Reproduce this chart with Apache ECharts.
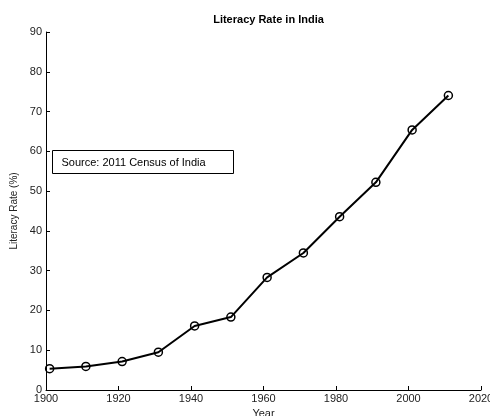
<!DOCTYPE html>
<html>
<head>
<meta charset="utf-8">
<script src="https://cdn.jsdelivr.net/npm/echarts@6/dist/echarts.min.js"></script>
<style>
  html, body { margin: 0; padding: 0; background: #fff; }
  #chart { width: 490px; height: 416px; }
</style>
</head>
<body>
<div id="chart"></div>
<script>
// Census years and literacy rates (%)
const years = [1901, 1911, 1921, 1931, 1941, 1951, 1961, 1971, 1981, 1991, 2001, 2011];
const literacy = [5.35, 5.92, 7.16, 9.5, 16.1, 18.33, 28.3, 34.45, 43.57, 52.21, 65.38, 74.04];
const xTicks = [1900, 1920, 1940, 1960, 1980, 2000, 2020];
const yTicks = [0, 10, 20, 30, 40, 50, 60, 70, 80, 90];

const FONT = '"Liberation Sans", Arial, sans-serif';
const chart = echarts.init(document.getElementById('chart'), null, { renderer: 'canvas' });

const points = years.map((y, i) => [y, literacy[i]]);

chart.setOption({
  animation: false,
  backgroundColor: '#fff',
  title: {
    text: 'Literacy Rate in India',
    left: 263.5,
    textAlign: 'center',
    top: 9,
    textStyle: { fontFamily: FONT, fontSize: 11, fontWeight: 'bold', color: '#000' }
  },
  grid: { left: 46, right: 9, top: 32, bottom: 26, containLabel: false, outerBoundsMode: 'none' },
  xAxis: {
    type: 'value',
    min: xTicks[0],
    max: xTicks[xTicks.length - 1],
    interval: 20,
    name: 'Year',
    nameLocation: 'middle',
    nameGap: 17,
    nameTextStyle: { fontFamily: FONT, fontSize: 11, color: '#222' },
    axisLine: { show: true, lineStyle: { color: '#000', width: 1 } },
    axisTick: { show: true, inside: true, length: 4, lineStyle: { color: '#000' } },
    axisLabel: {
      fontFamily: FONT, fontSize: 11, color: '#222', margin: 3,
      showMaxLabel: true, showMinLabel: true,
      formatter: v => String(v)
    },
    splitLine: { show: false }
  },
  yAxis: {
    type: 'value',
    min: yTicks[0],
    max: yTicks[yTicks.length - 1],
    interval: 10,
    name: 'Literacy Rate (%)',
    nameLocation: 'middle',
    nameGap: 24,
    nameTextStyle: { fontFamily: FONT, fontSize: 10, color: '#222' },
    axisLine: { show: true, lineStyle: { color: '#000', width: 1 } },
    axisTick: { show: true, inside: true, length: 4, lineStyle: { color: '#000' } },
    axisLabel: { fontFamily: FONT, fontSize: 11, color: '#222', margin: 4, formatter: v => String(v) },
    splitLine: { show: false }
  },
  series: [{
    type: 'line',
    data: points,
    lineStyle: { color: '#000', width: 2 },
    symbol: 'circle',
    symbolSize: 8,
    itemStyle: { color: 'rgba(0,0,0,0)', borderColor: '#000', borderWidth: 1.5 },
    emphasis: { disabled: true }
  }],
  graphic: [{
    type: 'group',
    left: 52,
    top: 150,
    children: [{
      type: 'rect',
      shape: { x: 0, y: 0, width: 181, height: 23 },
      style: { fill: '#fff', stroke: '#000', lineWidth: 1 }
    }, {
      type: 'text',
      x: 9,
      y: 12,
      style: {
        text: 'Source: 2011 Census of India',
        font: '11px ' + FONT,
        fill: '#000',
        verticalAlign: 'middle'
      }
    }]
  }]
});
</script>
</body>
</html>
